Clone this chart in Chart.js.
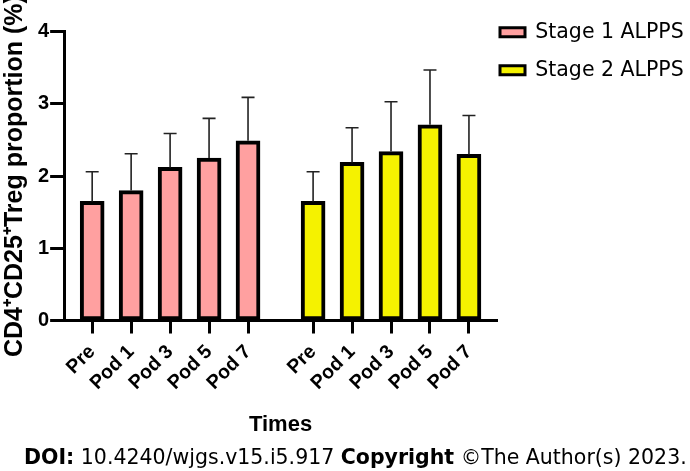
<!DOCTYPE html>
<html lang="en">
<head>
<meta charset="utf-8">
<title>CD4+CD25+ Treg proportion</title>
<script src="https://cdn.jsdelivr.net/npm/chart.js@4/dist/chart.umd.min.js"></script>
<style>
  html, body { margin: 0; padding: 0; background: #fff; }
  #wrap { position: relative; width: 690px; height: 471px; }
  #footer {
    position: absolute; left: 24px; top: 445px;
    white-space: nowrap; color: #000;
    font: 20.5px "DejaVu Sans", sans-serif;
  }
</style>
</head>
<body>
<div id="wrap">
  <canvas id="tregChart" width="690" height="471"></canvas>
  <div id="footer"><b>DOI:</b> 10.4240/wjgs.v15.i5.917 <b>Copyright</b> ©The Author(s) 2023.</div>
</div>
<script>
// values (mean and upper SD)
const timeLabels = ['Pre', 'Pod 1', 'Pod 3', 'Pod 5', 'Pod 7'];
const seriesNames = ['Stage 1 ALPPS', 'Stage 2 ALPPS'];
const stage1Mean = [1.65, 1.80, 2.12, 2.25, 2.49];
const stage1Sd = [0.41, 0.51, 0.47, 0.55, 0.60];
const stage2Mean = [1.65, 2.19, 2.34, 2.71, 2.30];
const stage2Sd = [0.41, 0.48, 0.69, 0.76, 0.54];
const yTicks = [0, 1, 2, 3, 4];

document.addEventListener('DOMContentLoaded', function () {
    const arial = "'Liberation Sans', Arial, sans-serif";
    const tahoma = "'DejaVu Sans', sans-serif";

    // second group starts a bit less than two slots after the first
    const groupStart = [0, 5.67];
    const edge = 0.72;
    const xPositions = [];
    const xLabels = [];
    groupStart.forEach(g => timeLabels.forEach((t, i) => {
        xPositions.push(g + i);
        xLabels.push(t);
    }));

    // the layout caps side boxes at 1/4 of the width; a negative left padding
    // (given back through the y title padding) leaves room for the legend
    const shiftLeft = 100;

    function makeSet(name, means, sds, start, color) {
        return {
            label: name,
            data: means.map((v, i) => ({ x: start + i, y: v })),
            errors: sds,
            backgroundColor: color,
            borderColor: '#000',
            borderWidth: 4,
            borderSkipped: false,
            barThickness: 24,
            grouped: false
        };
    }

    // upper error bars with a cap
    const errorBars = {
        id: 'errorBars',
        afterDatasetsDraw(chart) {
            const ctx = chart.ctx;
            const yScale = chart.scales.y;
            ctx.save();
            ctx.strokeStyle = '#222';
            ctx.lineWidth = 1.6;
            chart.data.datasets.forEach((ds, d) => {
                chart.getDatasetMeta(d).data.forEach((bar, i) => {
                    const top = yScale.getPixelForValue(ds.data[i].y + ds.errors[i]);
                    ctx.beginPath();
                    ctx.moveTo(bar.x, bar.y);
                    ctx.lineTo(bar.x, top);
                    ctx.moveTo(bar.x - 6.5, top);
                    ctx.lineTo(bar.x + 6.5, top);
                    ctx.stroke();
                });
            });
            ctx.restore();
        }
    };

    Chart.defaults.font.family = arial;
    Chart.defaults.color = '#000';

    new Chart(document.getElementById('tregChart').getContext('2d'), {
        type: 'bar',
        data: {
            datasets: [
                makeSet(seriesNames[0], stage1Mean, stage1Sd, groupStart[0], '#ffa0a0'),
                makeSet(seriesNames[1], stage2Mean, stage2Sd, groupStart[1], '#f5f200')
            ]
        },
        options: {
            responsive: false,
            animation: false,
            layout: { padding: { top: 19, left: -shiftLeft, right: 0, bottom: 33 } },
            plugins: {
                tooltip: { enabled: false },
                // empty title only reserves room above the plot, next to the legend
                title: { display: true, text: '', fullSize: false, padding: 0, font: { size: 10, lineHeight: '12.7px' } },
                legend: {
                    position: 'right',
                    align: 'start',
                    maxWidth: 193,
                    labels: {
                        boxWidth: 25,
                        boxHeight: 9,
                        padding: 3,
                        color: '#000',
                        font: { family: tahoma, size: 20.5, lineHeight: '35px' },
                        generateLabels: function (chart) {
                            return Chart.defaults.plugins.legend.labels.generateLabels(chart)
                                .map(item => Object.assign(item, { text: [item.text], lineWidth: 3 }));
                        }
                    }
                }
            },
            scales: {
                x: {
                    type: 'linear',
                    offset: false,
                    min: groupStart[0] - edge,
                    max: groupStart[1] + timeLabels.length - 1 + edge,
                    afterBuildTicks: axis => { axis.ticks = xPositions.map(v => ({ value: v })); },
                    ticks: {
                        autoSkip: false,
                        minRotation: 45,
                        maxRotation: 45,
                        padding: 7,
                        color: '#000',
                        font: { family: arial, size: 19.5, weight: 'bold' },
                        callback: (value, index) => xLabels[index]
                    },
                    grid: { offset: false, drawOnChartArea: false, tickLength: 13, tickWidth: 3, tickColor: '#000' },
                    border: { color: '#000', width: 3 },
                    title: {
                        display: true,
                        text: 'Times',
                        color: '#000',
                        font: { family: arial, size: 22, weight: 'bold' },
                        padding: { top: 10, bottom: 0 }
                    }
                },
                y: {
                    min: yTicks[0],
                    max: yTicks[yTicks.length - 1],
                    afterBuildTicks: axis => { axis.ticks = yTicks.map(v => ({ value: v })); },
                    ticks: {
                        padding: 1,
                        color: '#000',
                        font: { family: arial, size: 20, weight: 'bold' }
                    },
                    grid: { drawOnChartArea: false, tickLength: 14, tickWidth: 3, tickColor: '#000' },
                    border: { color: '#000', width: 3 },
                    title: {
                        display: true,
                        text: 'CD4\u207ACD25\u207ATreg proportion (%)',
                        color: '#000',
                        font: { family: arial, size: 25, weight: 'bold' },
                        padding: { top: shiftLeft, bottom: 7 }
                    }
                }
            }
        },
        plugins: [errorBars]
    });
});
</script>
</body>
</html>
